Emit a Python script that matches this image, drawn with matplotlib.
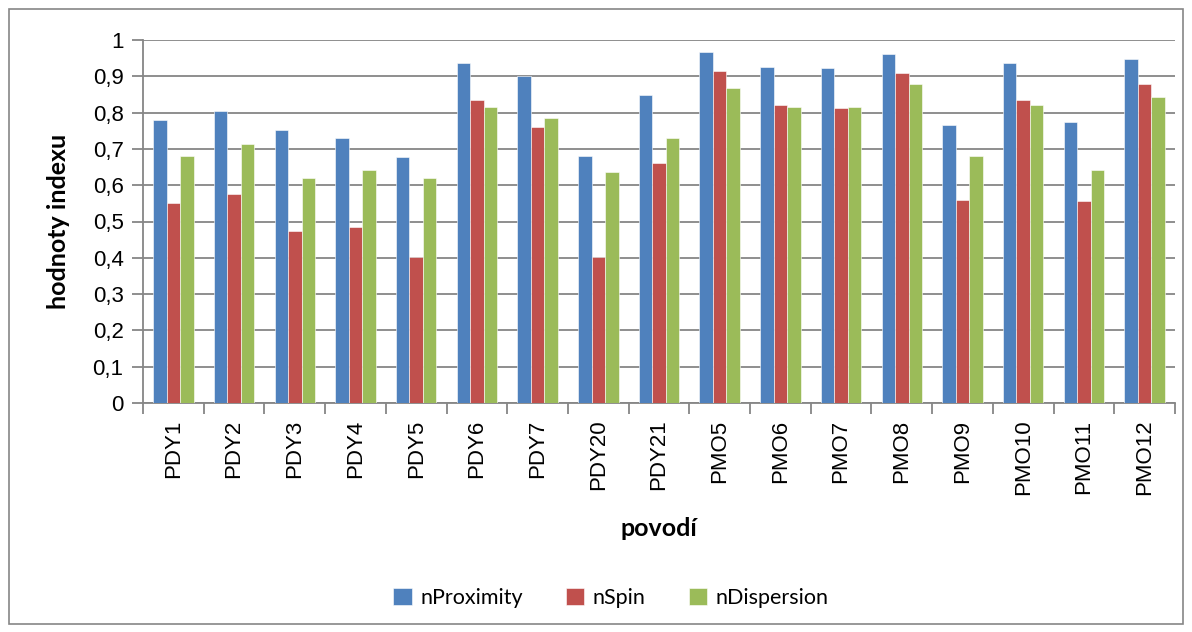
import numpy as np
import matplotlib.pyplot as plt
from matplotlib.patches import Rectangle

categories = ['PDY1', 'PDY2', 'PDY3', 'PDY4', 'PDY5', 'PDY6', 'PDY7', 'PDY20', 'PDY21',
              'PMO5', 'PMO6', 'PMO7', 'PMO8', 'PMO9', 'PMO10', 'PMO11', 'PMO12']
n_proximity = [0.780, 0.804, 0.751, 0.730, 0.678, 0.936, 0.900, 0.681, 0.849,
               0.966, 0.925, 0.922, 0.961, 0.765, 0.936, 0.775, 0.948]
n_spin = [0.550, 0.575, 0.473, 0.485, 0.401, 0.836, 0.761, 0.403, 0.661,
          0.915, 0.822, 0.814, 0.908, 0.558, 0.836, 0.556, 0.879]
n_dispersion = [0.680, 0.714, 0.619, 0.643, 0.620, 0.816, 0.786, 0.637, 0.730,
                0.868, 0.816, 0.816, 0.878, 0.680, 0.821, 0.641, 0.842]
series_names = ['nProximity', 'nSpin', 'nDispersion']
y_ticks = [0, 0.1, 0.2, 0.3, 0.4, 0.5, 0.6, 0.7, 0.8, 0.9, 1]
y_tick_labels = ['0', '0,1', '0,2', '0,3', '0,4', '0,5', '0,6', '0,7', '0,8', '0,9', '1']

colors = ['#4F81BD', '#C0504D', '#9BBB59']
grid_col = '#868686'

W, H = 1192, 632
fig = plt.figure(figsize=(W / 100, H / 100), dpi=100)
# rámeček grafu
fig.patches.append(Rectangle((9 / W, 8 / H), 1174 / W, 615 / H, transform=fig.transFigure,
                             fill=False, edgecolor=grid_col, linewidth=1.2))

ax = fig.add_axes([143 / W, 1 - 403 / H, (1175 - 143) / W, (403 - 40) / H])

x = np.arange(len(categories))
bw = 0.222
for i, (vals, name) in enumerate(zip([n_proximity, n_spin, n_dispersion], series_names)):
    ax.bar(x + (i - 1) * bw, vals, width=bw, color=colors[i], label=name,
           edgecolor='white', linewidth=0.4, zorder=3)

ax.set_xlim(-0.5, len(categories) - 0.5)
ax.set_ylim(0, 1)
ax.set_yticks(y_ticks)
ax.set_yticklabels(y_tick_labels, fontsize=16, family='Liberation Sans')
ax.yaxis.grid(True, color=grid_col, linewidth=1.3, zorder=0)
ax.set_xticks(x)
ax.set_xticklabels(categories, rotation=90, fontsize=16, family='Liberation Sans')
ax.set_xticks(np.arange(-0.5, len(categories)), minor=True)
ax.tick_params(axis='x', which='major', length=0, pad=12)
ax.tick_params(axis='x', which='minor', length=8, width=1.3, color=grid_col)
ax.tick_params(axis='y', length=8, width=1.3, color=grid_col, pad=6)

for s in ['top', 'right']:
    ax.spines[s].set_visible(False)
for s in ['left', 'bottom']:
    ax.spines[s].set_color(grid_col)
    ax.spines[s].set_linewidth(1.3)

fig.text(59 / W, 1 - 221 / H, 'hodnoty indexu', fontsize=18, fontweight='bold', family='Lato',
         rotation=90, ha='center', va='center')
fig.text(659 / W, 1 - 528 / H, 'povodí', fontsize=18, fontweight='bold', family='Lato',
         ha='center', va='center')

handles, labels = ax.get_legend_handles_labels()
fig.legend(handles, labels, loc='center', bbox_to_anchor=(611 / W, 1 - 598 / H), ncol=3,
           frameon=False, prop={'family': 'Lato', 'size': 15.5}, handlelength=0.85,
           handleheight=0.85, handletextpad=0.4, columnspacing=2.0)

plt.savefig('out.png', dpi=100)
